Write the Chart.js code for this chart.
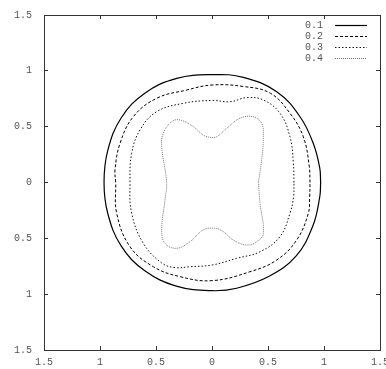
<!DOCTYPE html>
<html>
<head>
<meta charset="utf-8">
<script src="https://cdn.jsdelivr.net/npm/chart.js@4"></script>
<style>
  html, body { margin: 0; padding: 0; background: #fff; }
  #wrap { width: 386px; height: 369px; }
</style>
</head>
<body>
<div id="wrap"><canvas id="plot"></canvas></div>
<script>
// contour levels and their points
const levels = ['0.1', '0.2', '0.3', '0.4'];
const tickLabels = ['1.5', '1', '0.5', '0', '0.5', '1', '1.5'];

const level01 = [
    [0.97, 0], [0.962, 0.13], [0.904, 0.351], [0.786, 0.589], [0.578, 0.813], [0.28, 0.942], [0, 0.966],
    [-0.315, 0.933], [-0.6, 0.8], [-0.81, 0.58], [-0.93, 0.29], [-0.964, 0],
    [-0.93, -0.28], [-0.81, -0.57], [-0.6, -0.79], [-0.31, -0.93], [0, -0.969],
    [0.22, -0.947], [0.51, -0.84], [0.75, -0.66], [0.9, -0.39], [0.962, -0.13], [0.97, 0]
];
const level02 = [
    [0.875, 0], [0.868, 0.15], [0.815, 0.41], [0.696, 0.62], [0.52, 0.8], [0.28, 0.86], [0, 0.873],
    [-0.226, 0.828], [-0.494, 0.754], [-0.703, 0.589], [-0.821, 0.351], [-0.866, 0.112],
    [-0.86, 0], [-0.851, -0.276], [-0.732, -0.575], [-0.524, -0.754], [-0.286, -0.843],
    [0, -0.879], [0.339, -0.799], [0.578, -0.694], [0.756, -0.515], [0.86, -0.276],
    [0.872, -0.13], [0.875, 0]
];
const level03 = [
    [0.732, 0], [0.726, 0.18], [0.696, 0.41], [0.607, 0.62], [0.458, 0.739], [0.31, 0.76], [0.161, 0.723],
    [0, 0.735], [-0.256, 0.709], [-0.494, 0.634], [-0.643, 0.47], [-0.717, 0.261],
    [-0.732, 0], [-0.717, -0.276], [-0.613, -0.545], [-0.45, -0.72], [-0.33, -0.762],
    [-0.196, -0.754], [0, -0.739], [0.22, -0.679], [0.429, -0.62], [0.607, -0.485],
    [0.696, -0.276], [0.728, -0.13], [0.732, 0]
];
const level04 = [
    [0.414, 0], [0.443, 0.2], [0.458, 0.41], [0.443, 0.53], [0.369, 0.589], [0.25, 0.575],
    [0.131, 0.485], [0.042, 0.41], [-0.018, 0.405], [-0.078, 0.425], [-0.167, 0.5],
    [-0.286, 0.56], [-0.36, 0.544], [-0.435, 0.44], [-0.449, 0.32], [-0.405, 0],
    [-0.42, -0.157], [-0.449, -0.425], [-0.42, -0.545], [-0.315, -0.589], [-0.196, -0.53],
    [-0.078, -0.425], [0.027, -0.41], [0.101, -0.44], [0.19, -0.515], [0.31, -0.56],
    [0.399, -0.53], [0.458, -0.455], [0.429, -0.186], [0.414, 0]
];

const curves = [level01, level02, level03, level04];
const colors = ['#000', '#000', '#111', '#777'];
const dashes = [[], [3, 2], [1.5, 2], [1, 1]];
const widths = [1.2, 1, 1, 1];

const tickFont = { family: 'Liberation Mono', size: 10 };
const textColor = '#555';
const frameColor = '#333';

const datasets = curves.map((pts, i) => {
    return {
        label: levels[i],
        data: pts.map(p => ({ x: p[0], y: p[1] })),
        showLine: true,
        borderColor: colors[i],
        borderDash: dashes[i],
        borderWidth: widths[i],
        pointRadius: 0,
        tension: 0.4
    };
});

// inward tick marks on every side, like gnuplot
const frameGrid = { display: true, drawOnChartArea: false, drawTicks: true, tickLength: -4, color: frameColor };
const frameBorder = { display: true, color: frameColor, width: 1 };

function axis(position, showLabels) {
    const horizontal = position === 'bottom' || position === 'top';
    return {
        type: 'linear',
        position: position,
        min: -1.5,
        max: 1.5,
        grid: frameGrid,
        border: frameBorder,
        ticks: {
            display: showLabels,
            stepSize: 0.5,
            maxRotation: 0,
            autoSkip: false,
            padding: horizontal ? 10 : 16,
            font: tickFont,
            color: textColor,
            callback: (v, i) => tickLabels[i]
        },
        afterFit: s => {
            if (horizontal) {
                s.height = showLabels ? 19 : 0;
                s.paddingLeft = 0;
                s.paddingRight = 0;
            } else {
                s.width = showLabels ? 44 : 0;
                s.paddingTop = 0;
                s.paddingBottom = 0;
            }
        }
    };
}

// legend in the top right corner: label, then a line sample
const legendPlugin = {
    id: 'cornerLegend',
    afterDraw(chart) {
        const ctx = chart.ctx;
        ctx.save();
        ctx.font = '10px "Liberation Mono"';
        ctx.fillStyle = textColor;
        ctx.textAlign = 'right';
        ctx.textBaseline = 'middle';
        chart.data.datasets.forEach((ds, i) => {
            const y = 25 + i * 11;
            ctx.fillText(ds.label, 323, y);
            ctx.save();
            ctx.strokeStyle = ds.borderColor;
            ctx.lineWidth = ds.borderWidth;
            ctx.setLineDash(ds.borderDash);
            ctx.beginPath();
            ctx.moveTo(335, y + 0.5);
            ctx.lineTo(367, y + 0.5);
            ctx.stroke();
            ctx.restore();
        });
        ctx.restore();
    }
};

// software-backed context, so thin frame lines come out reliably
const canvas = document.getElementById('plot');
const ctx = canvas.getContext('2d', { willReadFrequently: true });

new Chart(ctx, {
    type: 'scatter',
    data: { datasets: datasets },
    options: {
        responsive: true,
        maintainAspectRatio: false,
        animation: false,
        layout: { padding: { top: 15, right: 6, left: 0, bottom: 0 } },
        plugins: {
            legend: { display: false },
            tooltip: { enabled: false }
        },
        scales: {
            x: axis('bottom', true),
            y: axis('left', true),
            x2: axis('top', false),
            y2: axis('right', false)
        }
    },
    plugins: [legendPlugin]
});
</script>
</body>
</html>
